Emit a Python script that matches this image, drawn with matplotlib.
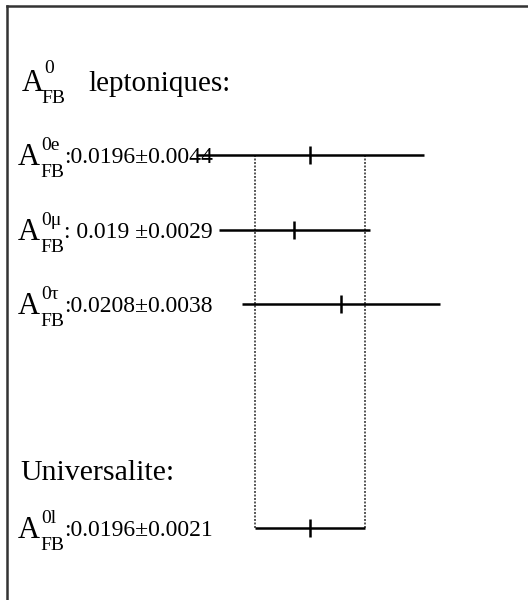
import matplotlib
matplotlib.use('Agg')
import matplotlib.pyplot as plt
from matplotlib.lines import Line2D

plt.rcParams['font.family'] = ['Liberation Serif', 'DejaVu Serif']

# leptonic measurements
flavours = ['0e', '0\u03bc', '0\u03c4']
centers = [0.0196, 0.019, 0.0208]
errors = [0.0044, 0.0029, 0.0038]
value_labels = [':0.0196\u00b10.0044', ': 0.019 \u00b10.0029', ':0.0208\u00b10.0038']

# universality fit
univ_flavour = '0l'
univ_center = 0.0196
univ_error = 0.0021
univ_label = ':0.0196\u00b10.0021'

# layout (pixels from top)
row_y = [155, 230, 304]
univ_y = 528
px_per_unit = 26000.0
x_ref = 310

fig = plt.figure(figsize=(5.28, 6), dpi=100)
ax = fig.add_axes([0, 0, 1, 1])
ax.set_xlim(univ_center - x_ref / px_per_unit, univ_center + (528 - x_ref) / px_per_unit)
ax.set_ylim(600, 0)
ax.axis('off')

lab = fig.add_axes([0, 0, 1, 1])
lab.set_xlim(0, 528)
lab.set_ylim(600, 0)
lab.axis('off')
lab.patch.set_alpha(0)

for c, e, y in zip(centers, errors, row_y):
    ax.plot([c - e, c + e], [y, y], color='black', lw=1.8, solid_capstyle='butt', zorder=3)
    ax.plot([c], [y], marker='|', ms=13, mew=1.8, color='black', zorder=3)

ax.plot([univ_center - univ_error, univ_center + univ_error], [univ_y, univ_y],
        color='black', lw=1.8, solid_capstyle='butt', zorder=3)
ax.plot([univ_center], [univ_y], marker='|', ms=13, mew=1.8, color='black', zorder=3)

# universality band
for xb in (univ_center - univ_error, univ_center + univ_error):
    ax.plot([xb, xb], [row_y[0], univ_y], color='#555555', lw=1.4, ls=(0, (1, 0.8)))


def afb(x, y, sup, big=22, small=14):
    lab.text(x, y + 10, 'A', fontsize=big, ha='left', va='baseline')
    lab.text(x + 23, y - 5, sup, fontsize=small, ha='left', va='baseline')
    lab.text(x + 22, y + 22, 'FB', fontsize=small, ha='left', va='baseline')


# heading
lab.text(22, 91, 'A', fontsize=22, va='baseline')
lab.text(44, 73, '0', fontsize=14, va='baseline')
lab.text(41, 103, 'FB', fontsize=14, va='baseline')
lab.text(88, 91, 'leptoniques:', fontsize=21, va='baseline')

for fl, txt, y in zip(flavours, value_labels, row_y):
    afb(18, y, fl)
    lab.text(64, y + 8, txt, fontsize=17, va='baseline')

lab.text(20, 480, 'Universalite:', fontsize=21.5, va='baseline')
afb(18, univ_y, univ_flavour)
lab.text(64, univ_y + 8, univ_label, fontsize=17, va='baseline')

# frame
fig.add_artist(Line2D([6.5 / 528, 1], [1 - 5.5 / 600] * 2, color='#333333', lw=1.8,
                      transform=fig.transFigure))
fig.add_artist(Line2D([6.5 / 528] * 2, [0, 1 - 5.5 / 600], color='#333333', lw=1.8,
                      transform=fig.transFigure))

fig.savefig('out.png', dpi=100)
